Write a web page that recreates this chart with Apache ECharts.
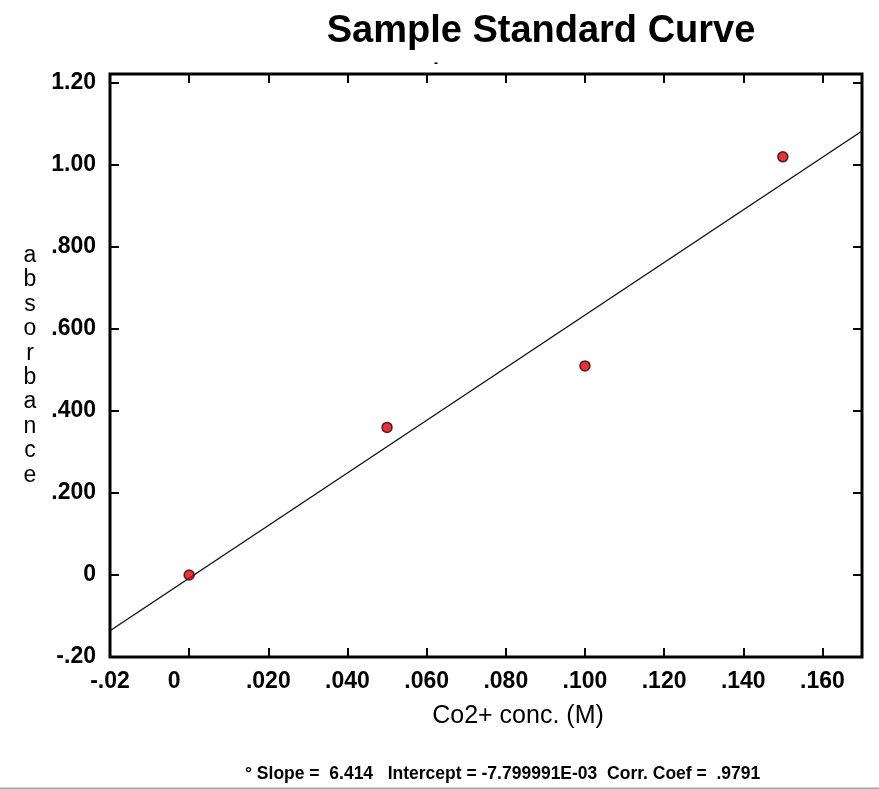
<!DOCTYPE html>
<html>
<head>
<meta charset="utf-8">
<script src="https://cdn.jsdelivr.net/npm/echarts@6/dist/echarts.min.js"></script>
<style>
  html, body { margin: 0; padding: 0; background: #fff; }
  #chart { width: 879px; height: 790px; }
</style>
</head>
<body>
<div id="chart"></div>
<script>
// measured standards (conc. in M, absorbance)
const concValues = [0, 0.05, 0.10, 0.15];
const absValues = [0, 0.36, 0.51, 1.02];

// least squares line, ends
const fitX = [-0.02, 0.17];
const fitY = [-0.136, 1.083];

const xTickLabels = ['-.02', '0', '.020', '.040', '.060', '.080', '.100', '.120', '.140', '.160'];
const yTickLabels = ['-.20', '0', '.200', '.400', '.600', '.800', '1.00', '1.20'];

const FONT = "'Liberation Sans', Arial, sans-serif";
const X_MIN = -0.02, X_MAX = 0.17, X_STEP = 0.02;
const Y_MIN = -0.2, Y_MAX = 1.222, Y_STEP = 0.2;

function tickLabel(labels, min, step) {
  return (v) => {
    const i = Math.round((v - min) / step);
    if (Math.abs(v - (min + i * step)) > 1e-6 || i < 0 || i >= labels.length) return '';
    return labels[i];
  };
}

const chart = echarts.init(document.getElementById('chart'));

const tickStyle = { show: true, inside: true, length: 9, lineStyle: { color: '#000', width: 2 } };
const noLine = { show: false, onZero: false };

chart.setOption({
  animation: false,
  backgroundColor: '#fff',
  title: {
    text: 'Sample Standard Curve',
    left: 536,
    top: 8,
    textAlign: 'center',
    textStyle: { fontFamily: FONT, fontSize: 38, fontWeight: 'bold', color: '#000' },
  },
  grid: {
    left: 110, right: 17, top: 74, bottom: 133,
    show: true, borderColor: '#000', borderWidth: 3, backgroundColor: '#fff',
  },
  xAxis: [
    {
      type: 'value', min: X_MIN, max: X_MAX, interval: X_STEP,
      position: 'bottom',
      axisLine: noLine,
      axisTick: tickStyle,
      splitLine: { show: false },
      showMaxLabel: false,
      axisLabel: {
        margin: 13,
        color: '#000', fontFamily: FONT, fontSize: 23, fontWeight: 'bold',
        formatter: (v) => {
          const s = tickLabel(xTickLabels, X_MIN, X_STEP)(v);
          return s === '0' ? '{z|0}' : s;
        },
        rich: { z: { padding: [0, 30, 0, 0], fontFamily: FONT, fontSize: 23, fontWeight: 'bold', color: '#000' } },
      },
      name: 'Co2+ conc. (M)',
      nameLocation: 'middle',
      nameGap: 47,
      nameTextStyle: { color: '#000', fontFamily: FONT, fontSize: 25, padding: [0, 0, 0, 64] },
    },
    {
      type: 'value', min: X_MIN, max: X_MAX, interval: X_STEP,
      position: 'top',
      axisLine: noLine,
      axisTick: tickStyle,
      axisLabel: { show: false },
      splitLine: { show: false },
    },
  ],
  yAxis: [
    {
      type: 'value', min: Y_MIN, max: Y_MAX, interval: Y_STEP,
      position: 'left',
      axisLine: noLine,
      axisTick: tickStyle,
      splitLine: { show: false },
      showMaxLabel: false,
      axisLabel: {
        margin: 14,
        color: '#000', fontFamily: FONT, fontSize: 23, fontWeight: 'bold',
        formatter: tickLabel(yTickLabels, Y_MIN, Y_STEP),
      },
      name: 'absorbance'.split('').join('\n'),
      nameLocation: 'middle',
      nameRotate: 0,
      nameGap: 80,
      nameTextStyle: {
        color: '#000', fontFamily: FONT, fontSize: 23, lineHeight: 24.4,
        align: 'center', padding: [30, 0, 0, 0],
      },
    },
    {
      type: 'value', min: Y_MIN, max: Y_MAX, interval: Y_STEP,
      position: 'right',
      axisLine: noLine,
      axisTick: tickStyle,
      axisLabel: { show: false },
      splitLine: { show: false },
    },
  ],
  series: [
    {
      type: 'line',
      data: fitX.map((x, i) => [x, fitY[i]]),
      symbol: 'none',
      lineStyle: { color: '#111', width: 1.4 },
      silent: true,
      z: 2,
    },
    {
      type: 'scatter',
      data: concValues.map((x, i) => [x, absValues[i]]),
      symbol: 'circle',
      symbolSize: 10,
      itemStyle: { color: '#e00000', borderColor: '#300000', borderWidth: 1.5 },
      z: 3,
    },
  ],
  graphic: [
    {
      type: 'text', left: 245, top: 765,
      style: {
        text: '° Slope =  6.414   Intercept = -7.799991E-03  Corr. Coef =  .9791',
        fontFamily: FONT, fontSize: 17.5, fontWeight: 'bold', fill: '#000',
      },
    },
    {
      type: 'text', left: 434, top: 58,
      style: { text: '-', fontFamily: FONT, fontSize: 12, fontWeight: 'bold', fill: '#000' },
    },
    {
      type: 'line',
      shape: { x1: 0, y1: 788.5, x2: 879, y2: 788.5 },
      style: { stroke: '#a8a8a8', lineWidth: 2 },
    },
  ],
});
</script>
</body>
</html>
